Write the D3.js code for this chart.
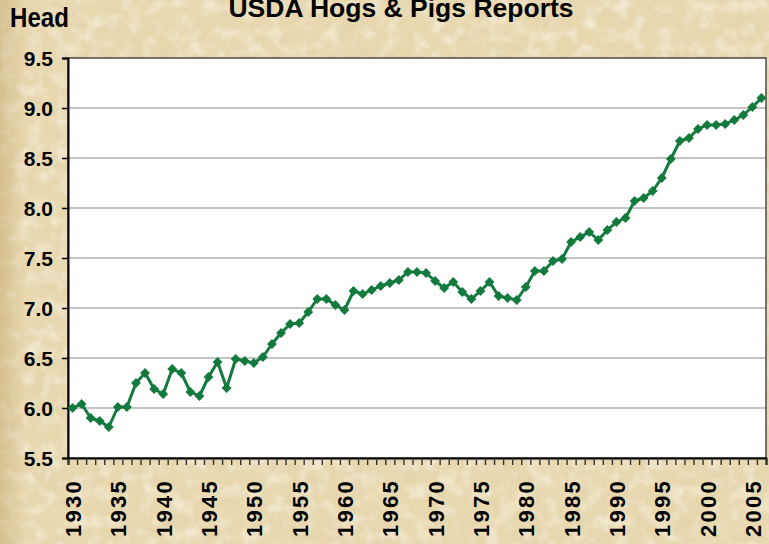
<!DOCTYPE html>
<html>
<head>
<meta charset="utf-8">
<script src="https://cdn.jsdelivr.net/npm/d3@7"></script>
<style>
  html, body { margin: 0; padding: 0; background: #e9dab4; }
  svg { display: block; }
  text { font-family: Arial, "Liberation Sans", sans-serif; font-weight: bold; fill: #000; }
</style>
</head>
<body>
<script>
// ---- Data (million head, USDA Hogs & Pigs Reports) ----
const years = d3.range(1930, 2007);
const values = [
  6.00, 6.04, 5.90, 5.87, 5.81, 6.01, 6.01, 6.25, 6.35, 6.19,
  6.14, 6.39, 6.35, 6.16, 6.12, 6.31, 6.46, 6.20, 6.49, 6.47,
  6.45, 6.51, 6.64, 6.75, 6.84, 6.85, 6.96, 7.09, 7.09, 7.03,
  6.98, 7.17, 7.14, 7.18, 7.22, 7.25, 7.28, 7.36, 7.36, 7.35,
  7.27, 7.20, 7.26, 7.16, 7.09, 7.17, 7.26, 7.12, 7.10, 7.08,
  7.21, 7.37, 7.37, 7.47, 7.49, 7.66, 7.71, 7.76, 7.68, 7.78,
  7.86, 7.90, 8.07, 8.10, 8.17, 8.30, 8.49, 8.67, 8.70, 8.79,
  8.83, 8.83, 8.84, 8.88, 8.93, 9.01, 9.10
];
const yTicks = [5.5, 6.0, 6.5, 7.0, 7.5, 8.0, 8.5, 9.0, 9.5];
const xLabelYears = d3.range(1930, 2006, 5);
const titleText = "USDA Hogs & Pigs Reports";
const yAxisTitle = "Head";

const W = 769, H = 544;
const margin = { left: 68, top: 58, right: 3, bottom: 86 };
const plotW = W - margin.left - margin.right;
const plotH = H - margin.top - margin.bottom;

const svg = d3.select("body").append("svg").attr("width", W).attr("height", H);

// ---- parchment background ----
const defs = svg.append("defs");
const f1 = defs.append("filter").attr("id", "paper").attr("x", 0).attr("y", 0).attr("width", "100%").attr("height", "100%");
f1.append("feTurbulence").attr("type", "fractalNoise").attr("baseFrequency", "0.03 0.045").attr("numOctaves", 5).attr("seed", 7).attr("result", "n");
f1.append("feColorMatrix").attr("in", "n").attr("type", "matrix")
  .attr("values", "0 0 0 0 0.70  0 0 0 0 0.57  0 0 0 0 0.34  1.4 0 0 0 -0.62");
const f2 = defs.append("filter").attr("id", "paper2").attr("x", 0).attr("y", 0).attr("width", "100%").attr("height", "100%");
f2.append("feTurbulence").attr("type", "fractalNoise").attr("baseFrequency", "0.07").attr("numOctaves", 3).attr("seed", 3).attr("result", "n");
f2.append("feColorMatrix").attr("in", "n").attr("type", "matrix")
  .attr("values", "0 0 0 0 0.98  0 0 0 0 0.95  0 0 0 0 0.87  0 1.6 0 0 -0.7");

svg.append("rect").attr("width", W).attr("height", H).attr("fill", "#e8d8b0");
svg.append("rect").attr("width", W).attr("height", H).attr("filter", "url(#paper)").attr("opacity", 0.38);
svg.append("rect").attr("width", W).attr("height", H).attr("filter", "url(#paper2)").attr("opacity", 0.75);
const edge = defs.append("linearGradient").attr("id", "edge").attr("x1", 0).attr("x2", 1);
edge.append("stop").attr("offset", 0).attr("stop-color", "#b89a5c").attr("stop-opacity", 0.4);
edge.append("stop").attr("offset", 1).attr("stop-color", "#b89a5c").attr("stop-opacity", 0);
svg.append("rect").attr("width", 26).attr("height", H).attr("fill", "url(#edge)");

// ---- scales ----
const x = d3.scaleBand().domain(years).range([margin.left, margin.left + plotW]).padding(0);
const xIdx = d3.scaleLinear().domain([0, years.length]).range([margin.left, margin.left + plotW]);
const y = d3.scaleLinear().domain([5.5, 9.5]).range([margin.top + plotH, margin.top]);
const cx = d => x(d) + x.bandwidth() / 2;

// plot area
svg.append("rect")
  .attr("x", margin.left).attr("y", margin.top)
  .attr("width", plotW).attr("height", plotH)
  .attr("fill", "#fff");

// gridlines
svg.append("g").selectAll("line")
  .data(yTicks.filter(t => t > 5.5 && t < 9.5))
  .join("line")
  .attr("x1", margin.left).attr("x2", margin.left + plotW)
  .attr("y1", d => y(d)).attr("y2", d => y(d))
  .attr("stroke", "#c4c4c4").attr("stroke-width", 2);

// frame
svg.append("rect")
  .attr("x", margin.left).attr("y", margin.top)
  .attr("width", plotW).attr("height", plotH)
  .attr("fill", "none").attr("stroke", "#222").attr("stroke-width", 1.2);

// y axis
const yAxis = svg.append("g")
  .attr("transform", `translate(${margin.left},0)`)
  .call(d3.axisLeft(y).tickValues(yTicks).tickFormat(d3.format(".1f")).tickSize(6).tickPadding(9));
yAxis.select(".domain").attr("stroke", "#000").attr("stroke-width", 2);
yAxis.selectAll(".tick line").attr("stroke", "#000").attr("stroke-width", 1.5);
yAxis.selectAll(".tick text")
  .attr("font-size", 21).attr("font-family", "Arial, 'Liberation Sans', sans-serif")
  .attr("font-weight", "bold").attr("fill", "#000").attr("dy", "0.36em");

// x axis tick marks at category boundaries
const xTickAxis = svg.append("g")
  .attr("transform", `translate(0,${margin.top + plotH})`)
  .call(d3.axisBottom(xIdx).tickValues(d3.range(years.length + 1)).tickFormat("").tickSize(7));
xTickAxis.select(".domain").attr("stroke", "#000").attr("stroke-width", 2);
xTickAxis.selectAll(".tick line").attr("stroke", "#333").attr("stroke-width", 1.4);

// x labels (rotated, reading bottom to top)
svg.append("g").selectAll("text")
  .data(xLabelYears)
  .join("text")
  .attr("transform", d => `translate(${cx(d) + 8.5},${margin.top + plotH + 79}) rotate(-90)`)
  .attr("text-anchor", "start")
  .attr("font-size", 22)
  .attr("letter-spacing", "2.3px")
  .text(d => d);

// line
const line = d3.line().x((d, i) => cx(years[i])).y(d => y(d));
svg.append("path")
  .datum(values)
  .attr("d", line)
  .attr("fill", "none")
  .attr("stroke", "#137a3e")
  .attr("stroke-width", 3)
  .attr("stroke-linejoin", "round");

// diamond markers
const diamond = d3.symbol().type(d3.symbolDiamond2).size(62);
svg.append("g").selectAll("path")
  .data(values)
  .join("path")
  .attr("transform", (d, i) => `translate(${cx(years[i])},${y(d)})`)
  .attr("d", diamond)
  .attr("fill", "#137a3e");

// title and axis title
svg.append("text")
  .attr("x", 401).attr("y", 16.5)
  .attr("text-anchor", "middle")
  .attr("font-size", 26.5)
  .text(titleText);

svg.append("text")
  .attr("transform", "translate(10,26.5) scale(0.86,1)")
  .attr("font-size", 28)
  .text(yAxisTitle);
</script>
</body>
</html>
